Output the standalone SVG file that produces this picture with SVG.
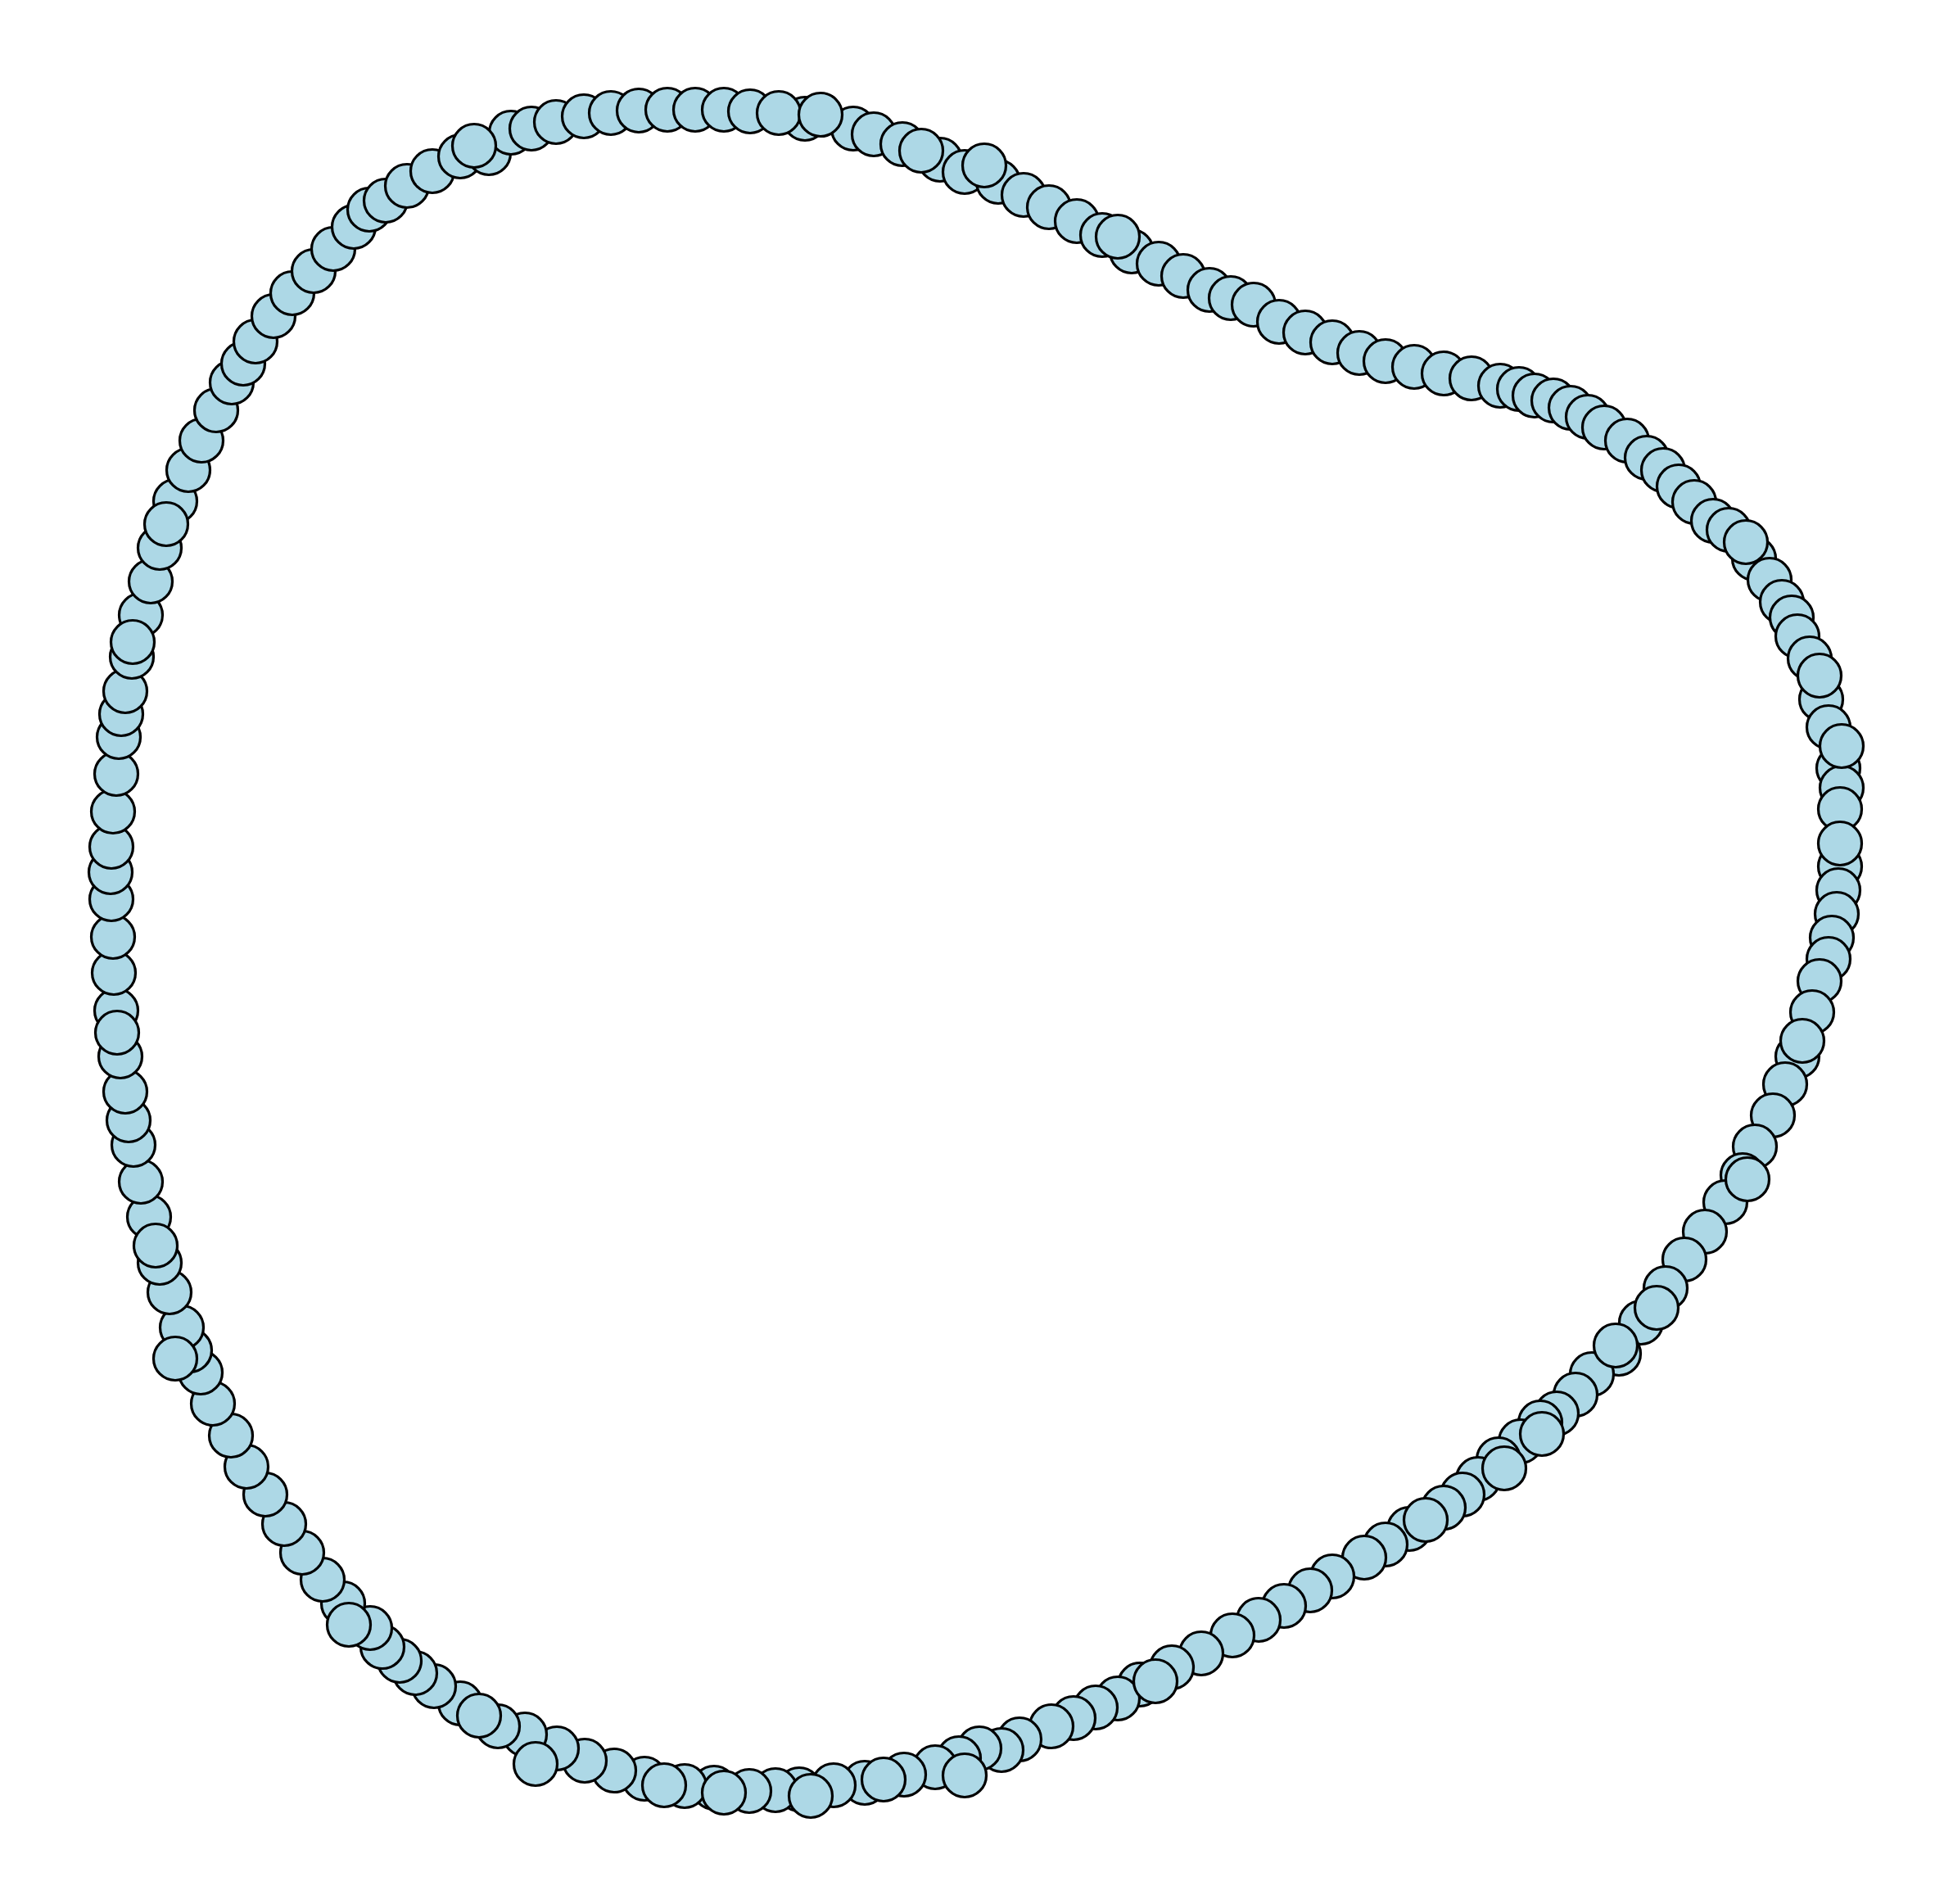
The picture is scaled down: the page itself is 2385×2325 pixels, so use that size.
<svg xmlns="http://www.w3.org/2000/svg" width="2385" height="2325" viewBox="0 0 2385 2325">
<style>
.node circle{fill:#ADD8E6;stroke:#000;stroke-width:3.2}
.edge{fill:none;stroke:#000;stroke-width:1.5}
</style>
<rect width="2385" height="2325" fill="#fff"/>
<g id="connectors">
<path class="edge" d="M983,145 L1002,140 L1042,157 L1067,164 L1102,176 L1125,184 L1148,195 L1178,210 L1202,202 L1219,222 L1250,238 L1281,253 L1315,270 L1346,287 L1365,289 L1382,307 L1415,322 L1445,337 L1477,354 L1503,364 L1531,372 L1562,393 L1594,406 L1627,418 L1660,431 L1692,441 L1727,448 L1763,456 L1797,462 L1832,471 L1855,475 L1874,483 L1897,489 L1918,498 L1939,509 L1959,522 L1987,538 L2011,559 L2031,574 L2050,594 L2069,613 L2092,636 L2111,647 L2132,662 L2142,682 L2161,708 L2176,735 L2188,754 L2195,777 L2210,804 L2222,825 L2224,854 L2233,888 L2249,911 L2245,938 L2249,962 L2247,988 L2247,1030 L2247,1058 L2245,1087 L2243,1116 L2237,1145 L2233,1171 L2222,1198 L2213,1236 L2201,1271 L2195,1290 L2180,1324 L2165,1362 L2143,1400 L2128,1435 L2134,1440 L2107,1468 L2082,1504 L2057,1538 L2034,1573 L2023,1597 L2004,1615 L1977,1653 L1973,1643 L1944,1678 L1924,1703 L1901,1726 L1881,1737 L1883,1751 L1857,1760 L1830,1782 L1837,1793 L1805,1806 L1786,1825 L1763,1841 L1741,1856 L1721,1867 L1692,1886 L1666,1902 L1627,1925 L1600,1942 L1568,1961 L1537,1978 L1505,1997 L1467,2019 L1431,2036 L1411,2053 L1392,2057 L1365,2074 L1338,2085 L1311,2098 L1284,2108 L1245,2124 L1223,2137 L1196,2135 L1178,2168 L1171,2147 L1142,2158 L1104,2167 L1079,2173 L1056,2177 L1018,2180 L990,2193 L976,2185 L947,2186 L915,2187 L884,2189 L872,2183 L836,2181 L811,2180 L787,2172 L750,2162 L714,2150 L680,2135 L654,2154 L641,2118 L608,2108 L585,2095 L562,2080 L530,2059 L507,2043 L488,2028 L467,2011 L452,1988 L426,1984 L419,1958 L394,1929 L369,1896 L347,1861 L324,1825 L301,1791 L282,1753 L260,1714 L245,1676 L214,1659 L232,1649 L222,1621 L207,1578 L195,1542 L190,1521 L182,1486 L172,1443 L163,1398 L157,1368 L153,1333 L147,1290 L143,1261 L142,1234 L139,1188 L138,1144 L136,1098 L135,1065 L136,1034 L138,991 L142,945 L145,900 L148,872 L153,844 L161,802 L162,784 L172,751 L184,710 L195,669 L203,640 L214,612 L230,574 L246,538 L264,501 L283,467 L297,444 L312,417 L334,386 L357,358 L383,331 L407,304 L432,277 L451,256 L471,245 L497,227 L528,209 L562,191 L579,178 L597,187 L624,162 L649,157 L679,149 L713,142 L746,138 L780,135 L815,134 L849,134 L884,134 L916,136 L951,138 Z"/>
</g>
<g id="nodes">
<g id="n1" class="node"><circle cx="983" cy="145" r="26.5"/></g>
<g id="n3" class="node"><circle cx="1042" cy="157" r="26.5"/></g>
<g id="n4" class="node"><circle cx="1067" cy="164" r="26.5"/></g>
<g id="n5" class="node"><circle cx="1102" cy="176" r="26.5"/></g>
<g id="n7" class="node"><circle cx="1148" cy="195" r="26.5"/></g>
<g id="n8" class="node"><circle cx="1178" cy="210" r="26.5"/></g>
<g id="n10" class="node"><circle cx="1219" cy="222" r="26.5"/></g>
<g id="n11" class="node"><circle cx="1250" cy="238" r="26.5"/></g>
<g id="n12" class="node"><circle cx="1281" cy="253" r="26.5"/></g>
<g id="n13" class="node"><circle cx="1315" cy="270" r="26.5"/></g>
<g id="n14" class="node"><circle cx="1346" cy="287" r="26.5"/></g>
<g id="n16" class="node"><circle cx="1382" cy="307" r="26.5"/></g>
<g id="n17" class="node"><circle cx="1415" cy="322" r="26.5"/></g>
<g id="n18" class="node"><circle cx="1445" cy="337" r="26.5"/></g>
<g id="n19" class="node"><circle cx="1477" cy="354" r="26.5"/></g>
<g id="n20" class="node"><circle cx="1503" cy="364" r="26.5"/></g>
<g id="n21" class="node"><circle cx="1531" cy="372" r="26.5"/></g>
<g id="n22" class="node"><circle cx="1562" cy="393" r="26.5"/></g>
<g id="n23" class="node"><circle cx="1594" cy="406" r="26.5"/></g>
<g id="n24" class="node"><circle cx="1627" cy="418" r="26.5"/></g>
<g id="n25" class="node"><circle cx="1660" cy="431" r="26.5"/></g>
<g id="n26" class="node"><circle cx="1692" cy="441" r="26.5"/></g>
<g id="n27" class="node"><circle cx="1727" cy="448" r="26.5"/></g>
<g id="n28" class="node"><circle cx="1763" cy="456" r="26.5"/></g>
<g id="n29" class="node"><circle cx="1797" cy="462" r="26.5"/></g>
<g id="n30" class="node"><circle cx="1832" cy="471" r="26.5"/></g>
<g id="n31" class="node"><circle cx="1855" cy="475" r="26.5"/></g>
<g id="n32" class="node"><circle cx="1874" cy="483" r="26.5"/></g>
<g id="n33" class="node"><circle cx="1897" cy="489" r="26.5"/></g>
<g id="n34" class="node"><circle cx="1918" cy="498" r="26.5"/></g>
<g id="n35" class="node"><circle cx="1939" cy="509" r="26.5"/></g>
<g id="n36" class="node"><circle cx="1959" cy="522" r="26.5"/></g>
<g id="n37" class="node"><circle cx="1987" cy="538" r="26.5"/></g>
<g id="n38" class="node"><circle cx="2011" cy="559" r="26.5"/></g>
<g id="n39" class="node"><circle cx="2031" cy="574" r="26.5"/></g>
<g id="n40" class="node"><circle cx="2050" cy="594" r="26.5"/></g>
<g id="n41" class="node"><circle cx="2069" cy="613" r="26.5"/></g>
<g id="n42" class="node"><circle cx="2092" cy="636" r="26.5"/></g>
<g id="n43" class="node"><circle cx="2111" cy="647" r="26.5"/></g>
<g id="n45" class="node"><circle cx="2142" cy="682" r="26.5"/></g>
<g id="n46" class="node"><circle cx="2161" cy="708" r="26.5"/></g>
<g id="n47" class="node"><circle cx="2176" cy="735" r="26.5"/></g>
<g id="n48" class="node"><circle cx="2188" cy="754" r="26.5"/></g>
<g id="n49" class="node"><circle cx="2195" cy="777" r="26.5"/></g>
<g id="n50" class="node"><circle cx="2210" cy="804" r="26.5"/></g>
<g id="n52" class="node"><circle cx="2224" cy="854" r="26.5"/></g>
<g id="n53" class="node"><circle cx="2233" cy="888" r="26.5"/></g>
<g id="n55" class="node"><circle cx="2245" cy="938" r="26.5"/></g>
<g id="n56" class="node"><circle cx="2249" cy="962" r="26.5"/></g>
<g id="n57" class="node"><circle cx="2247" cy="988" r="26.5"/></g>
<g id="n59" class="node"><circle cx="2247" cy="1058" r="26.5"/></g>
<g id="n60" class="node"><circle cx="2245" cy="1087" r="26.5"/></g>
<g id="n61" class="node"><circle cx="2243" cy="1116" r="26.5"/></g>
<g id="n62" class="node"><circle cx="2237" cy="1145" r="26.5"/></g>
<g id="n63" class="node"><circle cx="2233" cy="1171" r="26.5"/></g>
<g id="n64" class="node"><circle cx="2222" cy="1198" r="26.5"/></g>
<g id="n65" class="node"><circle cx="2213" cy="1236" r="26.5"/></g>
<g id="n67" class="node"><circle cx="2195" cy="1290" r="26.5"/></g>
<g id="n68" class="node"><circle cx="2180" cy="1324" r="26.5"/></g>
<g id="n69" class="node"><circle cx="2165" cy="1362" r="26.5"/></g>
<g id="n70" class="node"><circle cx="2143" cy="1400" r="26.5"/></g>
<g id="n71" class="node"><circle cx="2128" cy="1435" r="26.5"/></g>
<g id="n73" class="node"><circle cx="2107" cy="1468" r="26.5"/></g>
<g id="n74" class="node"><circle cx="2082" cy="1504" r="26.5"/></g>
<g id="n75" class="node"><circle cx="2057" cy="1538" r="26.5"/></g>
<g id="n76" class="node"><circle cx="2034" cy="1573" r="26.5"/></g>
<g id="n78" class="node"><circle cx="2004" cy="1615" r="26.5"/></g>
<g id="n79" class="node"><circle cx="1977" cy="1653" r="26.5"/></g>
<g id="n81" class="node"><circle cx="1944" cy="1678" r="26.5"/></g>
<g id="n82" class="node"><circle cx="1924" cy="1703" r="26.5"/></g>
<g id="n83" class="node"><circle cx="1901" cy="1726" r="26.5"/></g>
<g id="n84" class="node"><circle cx="1881" cy="1737" r="26.5"/></g>
<g id="n86" class="node"><circle cx="1857" cy="1760" r="26.5"/></g>
<g id="n87" class="node"><circle cx="1830" cy="1782" r="26.5"/></g>
<g id="n89" class="node"><circle cx="1805" cy="1806" r="26.5"/></g>
<g id="n90" class="node"><circle cx="1786" cy="1825" r="26.5"/></g>
<g id="n91" class="node"><circle cx="1763" cy="1841" r="26.5"/></g>
<g id="n93" class="node"><circle cx="1721" cy="1867" r="26.5"/></g>
<g id="n94" class="node"><circle cx="1692" cy="1886" r="26.5"/></g>
<g id="n95" class="node"><circle cx="1666" cy="1902" r="26.5"/></g>
<g id="n96" class="node"><circle cx="1627" cy="1925" r="26.5"/></g>
<g id="n97" class="node"><circle cx="1600" cy="1942" r="26.5"/></g>
<g id="n98" class="node"><circle cx="1568" cy="1961" r="26.5"/></g>
<g id="n99" class="node"><circle cx="1537" cy="1978" r="26.5"/></g>
<g id="n100" class="node"><circle cx="1505" cy="1997" r="26.5"/></g>
<g id="n101" class="node"><circle cx="1467" cy="2019" r="26.5"/></g>
<g id="n102" class="node"><circle cx="1431" cy="2036" r="26.5"/></g>
<g id="n104" class="node"><circle cx="1392" cy="2057" r="26.5"/></g>
<g id="n105" class="node"><circle cx="1365" cy="2074" r="26.5"/></g>
<g id="n106" class="node"><circle cx="1338" cy="2085" r="26.5"/></g>
<g id="n107" class="node"><circle cx="1311" cy="2098" r="26.5"/></g>
<g id="n108" class="node"><circle cx="1284" cy="2108" r="26.5"/></g>
<g id="n109" class="node"><circle cx="1245" cy="2124" r="26.5"/></g>
<g id="n110" class="node"><circle cx="1223" cy="2137" r="26.5"/></g>
<g id="n111" class="node"><circle cx="1196" cy="2135" r="26.5"/></g>
<g id="n113" class="node"><circle cx="1171" cy="2147" r="26.5"/></g>
<g id="n114" class="node"><circle cx="1142" cy="2158" r="26.5"/></g>
<g id="n115" class="node"><circle cx="1104" cy="2167" r="26.5"/></g>
<g id="n117" class="node"><circle cx="1056" cy="2177" r="26.5"/></g>
<g id="n118" class="node"><circle cx="1018" cy="2180" r="26.5"/></g>
<g id="n120" class="node"><circle cx="976" cy="2185" r="26.5"/></g>
<g id="n121" class="node"><circle cx="947" cy="2186" r="26.5"/></g>
<g id="n122" class="node"><circle cx="915" cy="2187" r="26.5"/></g>
<g id="n124" class="node"><circle cx="872" cy="2183" r="26.5"/></g>
<g id="n125" class="node"><circle cx="836" cy="2181" r="26.5"/></g>
<g id="n127" class="node"><circle cx="787" cy="2172" r="26.5"/></g>
<g id="n128" class="node"><circle cx="750" cy="2162" r="26.5"/></g>
<g id="n129" class="node"><circle cx="714" cy="2150" r="26.5"/></g>
<g id="n130" class="node"><circle cx="680" cy="2135" r="26.5"/></g>
<g id="n132" class="node"><circle cx="641" cy="2118" r="26.5"/></g>
<g id="n133" class="node"><circle cx="608" cy="2108" r="26.5"/></g>
<g id="n135" class="node"><circle cx="562" cy="2080" r="26.5"/></g>
<g id="n136" class="node"><circle cx="530" cy="2059" r="26.5"/></g>
<g id="n137" class="node"><circle cx="507" cy="2043" r="26.5"/></g>
<g id="n138" class="node"><circle cx="488" cy="2028" r="26.5"/></g>
<g id="n139" class="node"><circle cx="467" cy="2011" r="26.5"/></g>
<g id="n140" class="node"><circle cx="452" cy="1988" r="26.5"/></g>
<g id="n142" class="node"><circle cx="419" cy="1958" r="26.5"/></g>
<g id="n143" class="node"><circle cx="394" cy="1929" r="26.5"/></g>
<g id="n144" class="node"><circle cx="369" cy="1896" r="26.5"/></g>
<g id="n145" class="node"><circle cx="347" cy="1861" r="26.5"/></g>
<g id="n146" class="node"><circle cx="324" cy="1825" r="26.5"/></g>
<g id="n147" class="node"><circle cx="301" cy="1791" r="26.5"/></g>
<g id="n148" class="node"><circle cx="282" cy="1753" r="26.5"/></g>
<g id="n149" class="node"><circle cx="260" cy="1714" r="26.5"/></g>
<g id="n150" class="node"><circle cx="245" cy="1676" r="26.5"/></g>
<g id="n152" class="node"><circle cx="232" cy="1649" r="26.5"/></g>
<g id="n153" class="node"><circle cx="222" cy="1621" r="26.5"/></g>
<g id="n154" class="node"><circle cx="207" cy="1578" r="26.5"/></g>
<g id="n155" class="node"><circle cx="195" cy="1542" r="26.5"/></g>
<g id="n157" class="node"><circle cx="182" cy="1486" r="26.5"/></g>
<g id="n158" class="node"><circle cx="172" cy="1443" r="26.5"/></g>
<g id="n159" class="node"><circle cx="163" cy="1398" r="26.5"/></g>
<g id="n160" class="node"><circle cx="157" cy="1368" r="26.5"/></g>
<g id="n161" class="node"><circle cx="153" cy="1333" r="26.5"/></g>
<g id="n162" class="node"><circle cx="147" cy="1290" r="26.5"/></g>
<g id="n164" class="node"><circle cx="142" cy="1234" r="26.5"/></g>
<g id="n165" class="node"><circle cx="139" cy="1188" r="26.5"/></g>
<g id="n166" class="node"><circle cx="138" cy="1144" r="26.5"/></g>
<g id="n167" class="node"><circle cx="136" cy="1098" r="26.5"/></g>
<g id="n168" class="node"><circle cx="135" cy="1065" r="26.5"/></g>
<g id="n169" class="node"><circle cx="136" cy="1034" r="26.5"/></g>
<g id="n170" class="node"><circle cx="138" cy="991" r="26.5"/></g>
<g id="n171" class="node"><circle cx="142" cy="945" r="26.5"/></g>
<g id="n172" class="node"><circle cx="145" cy="900" r="26.5"/></g>
<g id="n173" class="node"><circle cx="148" cy="872" r="26.5"/></g>
<g id="n174" class="node"><circle cx="153" cy="844" r="26.5"/></g>
<g id="n175" class="node"><circle cx="161" cy="802" r="26.5"/></g>
<g id="n177" class="node"><circle cx="172" cy="751" r="26.5"/></g>
<g id="n178" class="node"><circle cx="184" cy="710" r="26.5"/></g>
<g id="n179" class="node"><circle cx="195" cy="669" r="26.5"/></g>
<g id="n181" class="node"><circle cx="214" cy="612" r="26.5"/></g>
<g id="n182" class="node"><circle cx="230" cy="574" r="26.5"/></g>
<g id="n183" class="node"><circle cx="246" cy="538" r="26.5"/></g>
<g id="n184" class="node"><circle cx="264" cy="501" r="26.5"/></g>
<g id="n185" class="node"><circle cx="283" cy="467" r="26.5"/></g>
<g id="n186" class="node"><circle cx="297" cy="444" r="26.5"/></g>
<g id="n187" class="node"><circle cx="312" cy="417" r="26.5"/></g>
<g id="n188" class="node"><circle cx="334" cy="386" r="26.5"/></g>
<g id="n189" class="node"><circle cx="357" cy="358" r="26.5"/></g>
<g id="n190" class="node"><circle cx="383" cy="331" r="26.5"/></g>
<g id="n191" class="node"><circle cx="407" cy="304" r="26.5"/></g>
<g id="n192" class="node"><circle cx="432" cy="277" r="26.5"/></g>
<g id="n193" class="node"><circle cx="451" cy="256" r="26.5"/></g>
<g id="n194" class="node"><circle cx="471" cy="245" r="26.5"/></g>
<g id="n195" class="node"><circle cx="497" cy="227" r="26.5"/></g>
<g id="n196" class="node"><circle cx="528" cy="209" r="26.5"/></g>
<g id="n197" class="node"><circle cx="562" cy="191" r="26.5"/></g>
<g id="n199" class="node"><circle cx="597" cy="187" r="26.5"/></g>
<g id="n200" class="node"><circle cx="624" cy="162" r="26.5"/></g>
<g id="n201" class="node"><circle cx="649" cy="157" r="26.5"/></g>
<g id="n202" class="node"><circle cx="679" cy="149" r="26.5"/></g>
<g id="n203" class="node"><circle cx="713" cy="142" r="26.5"/></g>
<g id="n204" class="node"><circle cx="746" cy="138" r="26.5"/></g>
<g id="n205" class="node"><circle cx="780" cy="135" r="26.5"/></g>
<g id="n206" class="node"><circle cx="815" cy="134" r="26.5"/></g>
<g id="n207" class="node"><circle cx="849" cy="134" r="26.5"/></g>
<g id="n208" class="node"><circle cx="884" cy="134" r="26.5"/></g>
<g id="n209" class="node"><circle cx="916" cy="136" r="26.5"/></g>
<g id="n210" class="node"><circle cx="951" cy="138" r="26.5"/></g>
<g id="n2" class="node"><circle cx="1002" cy="140" r="26.5"/></g>
<g id="n6" class="node"><circle cx="1125" cy="184" r="26.5"/></g>
<g id="n9" class="node"><circle cx="1202" cy="202" r="26.5"/></g>
<g id="n15" class="node"><circle cx="1365" cy="289" r="26.5"/></g>
<g id="n44" class="node"><circle cx="2132" cy="662" r="26.5"/></g>
<g id="n51" class="node"><circle cx="2222" cy="825" r="26.5"/></g>
<g id="n54" class="node"><circle cx="2249" cy="911" r="26.5"/></g>
<g id="n58" class="node"><circle cx="2247" cy="1030" r="26.5"/></g>
<g id="n66" class="node"><circle cx="2201" cy="1271" r="26.5"/></g>
<g id="n72" class="node"><circle cx="2134" cy="1440" r="26.5"/></g>
<g id="n77" class="node"><circle cx="2023" cy="1597" r="26.5"/></g>
<g id="n80" class="node"><circle cx="1973" cy="1643" r="26.5"/></g>
<g id="n85" class="node"><circle cx="1883" cy="1751" r="26.5"/></g>
<g id="n88" class="node"><circle cx="1837" cy="1793" r="26.5"/></g>
<g id="n92" class="node"><circle cx="1741" cy="1856" r="26.5"/></g>
<g id="n103" class="node"><circle cx="1411" cy="2053" r="26.5"/></g>
<g id="n112" class="node"><circle cx="1178" cy="2168" r="26.5"/></g>
<g id="n116" class="node"><circle cx="1079" cy="2173" r="26.5"/></g>
<g id="n119" class="node"><circle cx="990" cy="2193" r="26.5"/></g>
<g id="n123" class="node"><circle cx="884" cy="2189" r="26.5"/></g>
<g id="n126" class="node"><circle cx="811" cy="2180" r="26.5"/></g>
<g id="n131" class="node"><circle cx="654" cy="2154" r="26.5"/></g>
<g id="n134" class="node"><circle cx="585" cy="2095" r="26.5"/></g>
<g id="n141" class="node"><circle cx="426" cy="1984" r="26.5"/></g>
<g id="n151" class="node"><circle cx="214" cy="1659" r="26.5"/></g>
<g id="n156" class="node"><circle cx="190" cy="1521" r="26.5"/></g>
<g id="n163" class="node"><circle cx="143" cy="1261" r="26.5"/></g>
<g id="n176" class="node"><circle cx="162" cy="784" r="26.5"/></g>
<g id="n180" class="node"><circle cx="203" cy="640" r="26.5"/></g>
<g id="n198" class="node"><circle cx="579" cy="178" r="26.5"/></g>
</g>
</svg>
